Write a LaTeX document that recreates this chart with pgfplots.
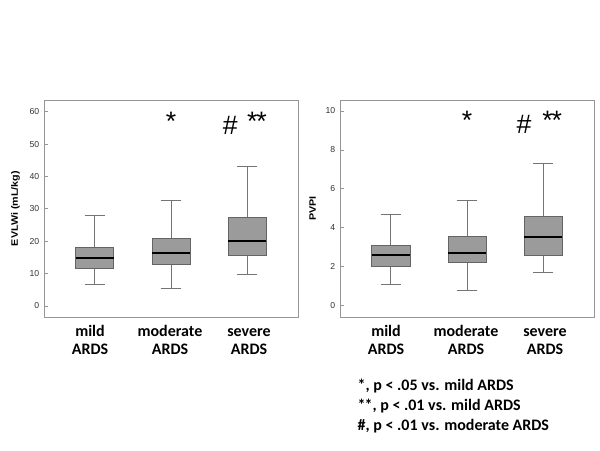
\documentclass[border=0pt]{standalone}
\usepackage{pgfplots}
\pgfplotsset{compat=1.18}
\usepgfplotslibrary{statistics}
\usepackage{fontspec}
\setmainfont{Carlito}
\newfontfamily\arialf{Liberation Sans}
\definecolor{boxfill}{RGB}{155,155,155}
\definecolor{boxline}{RGB}{100,100,100}
\definecolor{frame}{RGB}{150,150,150}
\begin{document}
\begin{tikzpicture}
\path[use as bounding box] (0,0) rectangle (450pt,337.5pt);
\pgfplotsset{
  myax/.style={
    scale only axis, width=190.5pt, height=162.75pt, anchor=south west,
    xmin=0.33, xmax=3.67,
    xtick=\empty,
    axis line style={frame, line width=0.6pt},
    ytick pos=left, tick style={frame, line width=0.5pt}, major tick length=3pt,
    tick label style={font=\arialf\fontsize{6.5}{7}\selectfont, text=black!80},
    /pgf/number format/assume math mode=true,
    ylabel style={font=\arialf\bfseries\fontsize{7}{8}\selectfont},
    ylabel shift=0.5pt,
    boxplot/draw direction=y,
    boxplot/box extend=0.5,
    boxplot/whisker extend=0.27,
    clip=false,
  },
  bx/.style={solid, draw=boxline, fill=boxfill, line width=0.7pt, mark=none,
    boxplot/every median/.style={draw=black, line width=1.3pt},
    boxplot/every whisker/.style={draw=boxline!90, line width=0.7pt}},
}
\begin{axis}[myax, at={(33pt,99.75pt)}, ymin=-3.4, ymax=63.6, ytick={0,10,...,60},
  ylabel={\scalebox{1.15}[1]{EVLWi (mL/kg)}}]
\addplot[bx, boxplot prepared={lower whisker=6.7, lower quartile=11.6, median=14.8, upper quartile=18.1, upper whisker=27.9, draw position=1}] coordinates {};
\addplot[bx, boxplot prepared={lower whisker=5.4, lower quartile=12.8, median=16.3, upper quartile=20.9, upper whisker=32.5, draw position=2}] coordinates {};
\addplot[bx, boxplot prepared={lower whisker=9.8, lower quartile=15.6, median=20.1, upper quartile=27.2, upper whisker=43.0, draw position=3}] coordinates {};
\node[font=\arialf\fontsize{20}{20}\selectfont] at (axis cs:2,57.0) {*};
\node[font=\arialf\fontsize{20}{20}\selectfont] at (axis cs:2.78,55.8) {\#};
\node[font=\arialf\fontsize{20}{20}\selectfont] at (axis cs:3.13,57.0) {*\kern-1pt*};
\end{axis}
\begin{axis}[myax, at={(255pt,99.75pt)}, ymin=-0.58, ymax=10.56, ytick={0,2,...,10},
  ylabel={\scalebox{1.15}[1]{PVPI}}]
\addplot[bx, boxplot prepared={lower whisker=1.1, lower quartile=2.0, median=2.59, upper quartile=3.1, upper whisker=4.69, draw position=1}] coordinates {};
\addplot[bx, boxplot prepared={lower whisker=0.79, lower quartile=2.21, median=2.71, upper quartile=3.53, upper whisker=5.41, draw position=2}] coordinates {};
\addplot[bx, boxplot prepared={lower whisker=1.7, lower quartile=2.6, median=3.51, upper quartile=4.59, upper whisker=7.29, draw position=3}] coordinates {};
\node[font=\arialf\fontsize{20}{20}\selectfont] at (axis cs:2,9.52) {*};
\node[font=\arialf\fontsize{20}{20}\selectfont] at (axis cs:2.75,9.3) {\#};
\node[font=\arialf\fontsize{20}{20}\selectfont] at (axis cs:3.12,9.52) {*\kern-1pt*};
\end{axis}
\begin{scope}[x=0.75pt,y=0.75pt, every node/.style={font=\bfseries\fontsize{12}{14}\selectfont, anchor=base}]
\foreach \xo in {0,296}{
  \node at (90+\xo,113) {mild};
  \node at (90+\xo,95) {ARDS};
  \node at (170+\xo,113) {moderate};
  \node at (170+\xo,95) {ARDS};
  \node at (249+\xo,113) {severe};
  \node at (249+\xo,95) {ARDS};
}
\node[anchor=base west] at (353,59) {*, p < .05 vs. mild ARDS};
\node[anchor=base west] at (353,39) {*\kern-0.8pt*, p < .01 vs. mild ARDS};
\node[anchor=base west] at (353,20) {\#, p < .01 vs. moderate ARDS};
\end{scope}
\end{tikzpicture}
\end{document}
